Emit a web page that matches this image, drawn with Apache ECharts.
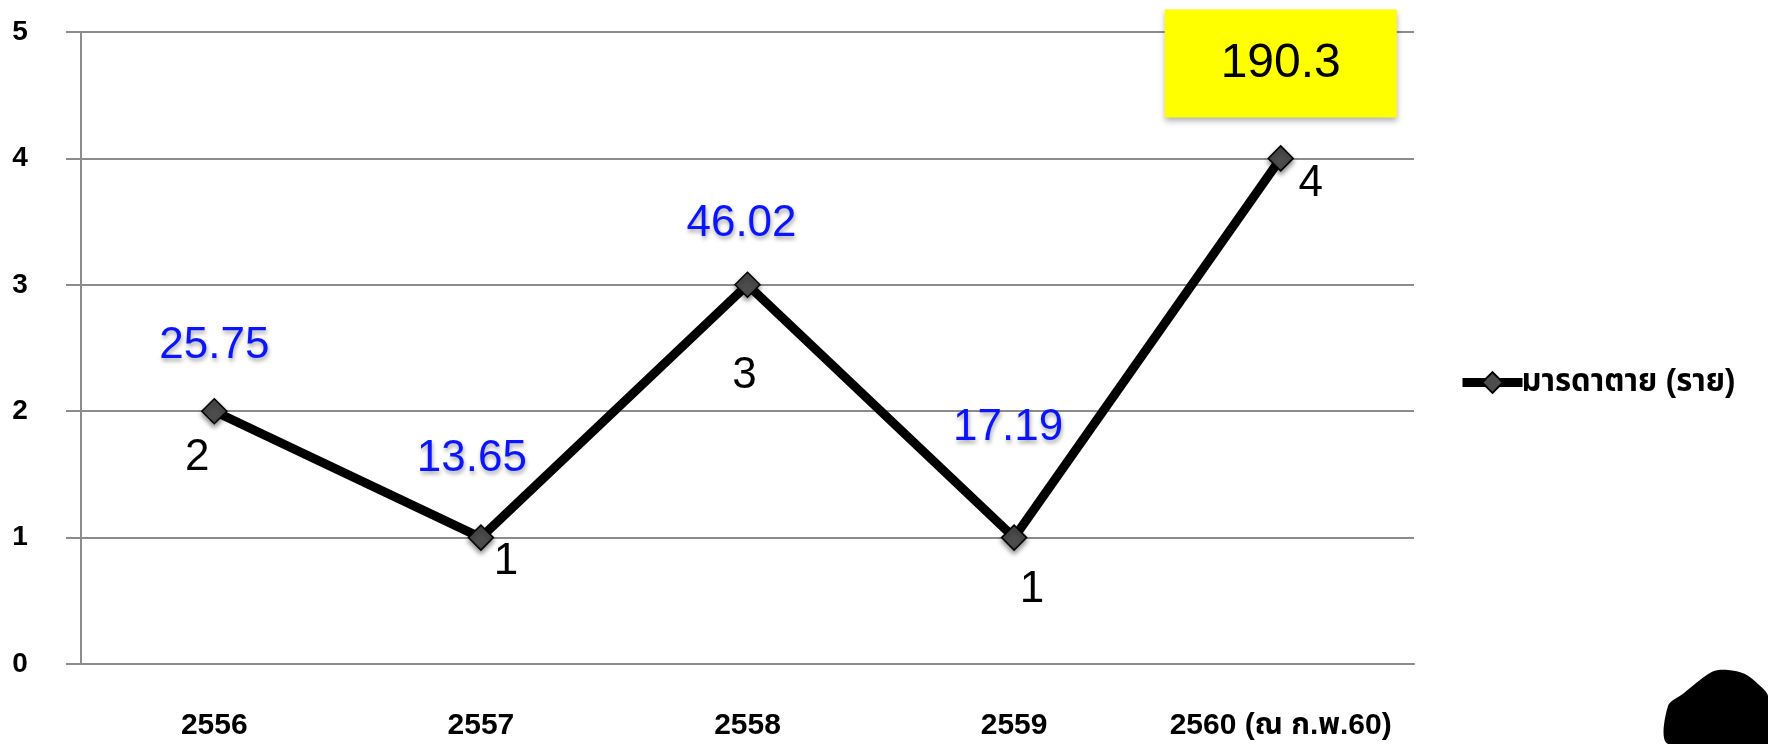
<!doctype html>
<html>
<head>
  <meta charset="UTF-8">
  <title>มารดาตาย</title>
  <script src="https://cdn.jsdelivr.net/npm/echarts@6/dist/echarts.min.js"></script>
  <style>
    html, body { margin: 0; padding: 0; background: #fff; }
    #chart { width: 1768px; height: 744px; }
  </style>
</head>
<body>
  <div id="chart"></div>
  <script>
    // data
    var years = ['2556', '2557', '2558', '2559', '2560 (ณ ก.พ.60)'];
    var deaths = [2, 1, 3, 1, 4];
    var rates = [25.75, 13.65, 46.02, 17.19, 190.3];
    var seriesName = 'มารดาตาย (ราย)';

    // where each label sits relative to its point (layout only)
    var countOffsets = [[-17, 47], [25, 24], [-3, 91], [18, 52], [30, 25]];
    var rateOffsets = [[0, -65], [-9, -79], [-6, -61], [-6, -110], [0, -95]];

    var font = "'Liberation Sans', 'Noto Sans Thai', 'Noto Sans', sans-serif";

    var chart = echarts.init(document.getElementById('chart'));

    var countData = deaths.map(function (v, i) {
      return { value: v, label: { offset: countOffsets[i] } };
    });

    var rateData = deaths.map(function (v, i) {
      var item = {
        value: v,
        label: {
          offset: rateOffsets[i],
          formatter: String(rates[i])
        }
      };
      // the last one is shown in a yellow box
      if (i === rates.length - 1) {
        item.label.color = '#000';
        item.label.fontSize = 48;
        item.label.backgroundColor = '#ffff00';
        item.label.padding = [29, 56];
        item.label.lineHeight = 50;
        item.label.textShadowBlur = 0;
        item.label.textShadowColor = 'transparent';
        item.label.shadowColor = 'rgba(0,0,0,0.3)';
        item.label.shadowBlur = 6;
        item.label.shadowOffsetY = 4;
      }
      return item;
    });

    var option = {
      animation: false,
      backgroundColor: '#fff',
      textStyle: { fontFamily: font },
      grid: { left: 81, right: 354, top: 32, bottom: 80, containLabel: false },
      legend: {
        data: [seriesName],
        left: 1453,
        top: 362,
        orient: 'vertical',
        itemWidth: 60,
        itemHeight: 26,
        itemGap: 0,
        lineStyle: { width: 9, color: '#000' },
        textStyle: { fontSize: 31, fontWeight: 'bold', color: '#000', fontFamily: font, padding: [0, 0, 0, -6] }
      },
      xAxis: {
        type: 'category',
        data: years,
        boundaryGap: true,
        axisLine: { lineStyle: { color: '#8c8c8c', width: 2 } },
        axisTick: { length: 15, lineStyle: { color: '#8c8c8c', width: 2 } },
        axisLabel: { interval: 0, hideOverlap: false, margin: 47, fontSize: 30, fontWeight: 'bold', color: '#000', fontFamily: font },
        splitLine: { show: false }
      },
      yAxis: {
        type: 'value',
        min: 0,
        max: 5,
        interval: 1,
        axisLine: { show: true, lineStyle: { color: '#8c8c8c', width: 2 } },
        axisTick: { show: true, length: 15, lineStyle: { color: '#8c8c8c', width: 2 } },
        axisLabel: { margin: 61, align: 'center', fontSize: 28, fontWeight: 'bold', color: '#000', padding: [0, 0, 14, 0], fontFamily: font },
        splitLine: { lineStyle: { color: '#8c8c8c', width: 2 } }
      },
      series: [
        {
          name: seriesName,
          type: 'line',
          data: countData,
          symbol: 'diamond',
          symbolSize: 25,
          z: 3,
          lineStyle: { color: '#000', width: 9 },
          itemStyle: {
            color: '#4d4d4d',
            borderColor: '#000',
            borderWidth: 1.5,
            shadowColor: 'rgba(0,0,0,0.45)',
            shadowBlur: 5,
            shadowOffsetY: 3
          },
          label: {
            show: true,
            position: 'inside',
            fontSize: 44,
            color: '#000',
            fontFamily: font
          }
        },
        {
          name: 'rate',
          type: 'line',
          data: rateData,
          symbol: 'circle',
          symbolSize: 1,
          silent: true,
          z: 4,
          lineStyle: { width: 0, opacity: 0 },
          itemStyle: { color: 'rgba(0,0,0,0)' },
          label: {
            show: true,
            position: 'inside',
            fontSize: 44,
            color: '#0a14ff',
            fontFamily: font,
            textShadowColor: 'rgba(0,0,0,0.35)',
            textShadowBlur: 4,
            textShadowOffsetX: 1,
            textShadowOffsetY: 3
          }
        }
      ],
      graphic: [
        {
          type: 'polygon',
          shape: {
            points: [[1668, 744], [1668, 706], [1684, 693], [1700, 680], [1714, 671], [1728, 670], [1745, 674], [1758, 684], [1768, 696], [1768, 744]],
            smooth: 0.3
          },
          style: { fill: '#000' }
        }
      ]
    };

    chart.setOption(option);
  </script>
</body>
</html>
